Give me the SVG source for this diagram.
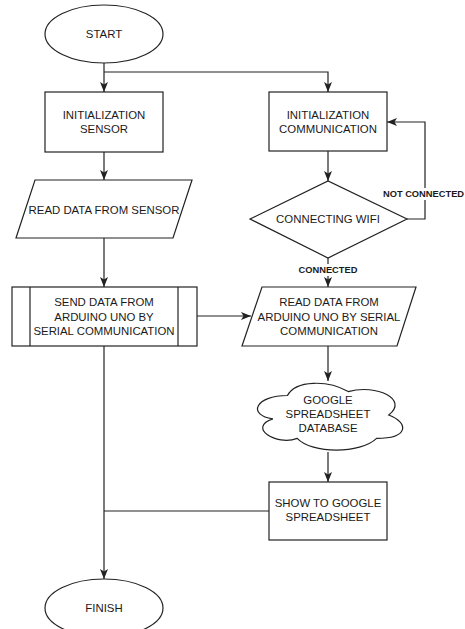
<svg xmlns="http://www.w3.org/2000/svg" width="465" height="629" viewBox="0 0 465 629">
<style>
.s{fill:#fff;stroke:#222;stroke-width:1.2}
.t{font-family:"Liberation Sans",Arial,sans-serif;font-size:11.4px;fill:#1a1a1a;text-anchor:middle;dominant-baseline:central}
.l{font-family:"Liberation Sans",Arial,sans-serif;font-size:9.3px;font-weight:bold;fill:#1a1a1a;text-anchor:middle;dominant-baseline:central}
.c{fill:none;stroke:#222;stroke-width:1.2}
</style>
<defs>
<marker id="a" viewBox="0 0 10 8" refX="10" refY="4" markerWidth="10" markerHeight="8" markerUnits="userSpaceOnUse" orient="auto">
<path d="M0,0 L10,4 L0,8 L2.5,4 Z" fill="#222"/>
</marker>
</defs>
<rect width="465" height="629" fill="#fff"/>
<g id="connectors">
<path class="c" d="M104,63 V92" marker-end="url(#a)"/>
<path class="c" d="M104,72 H328 V92" marker-end="url(#a)"/>
<path class="c" d="M104,152 V180" marker-end="url(#a)"/>
<path class="c" d="M328,151 V181" marker-end="url(#a)"/>
<path class="c" d="M104,238 V287" marker-end="url(#a)"/>
<path class="c" d="M197,316 H251" marker-end="url(#a)"/>
<path class="c" d="M407,219 H425 V122 H387" marker-end="url(#a)"/>
<path class="c" d="M328,258 V287" marker-end="url(#a)"/>
<path class="c" d="M328,346 V381" marker-end="url(#a)"/>
<path class="c" d="M328,452 V482" marker-end="url(#a)"/>
<path class="c" d="M104,346 V579" marker-end="url(#a)"/>
<path class="c" d="M269,511 H104"/>
<rect x="383" y="188" width="82" height="12" fill="#fff"/>
<text class="l" x="423.5" y="194">NOT CONNECTED</text>
<rect x="298" y="264" width="60" height="12" fill="#fff"/>
<text class="l" x="328" y="270">CONNECTED</text>
</g>
<g id="start">
<ellipse class="s" cx="104" cy="34" rx="59" ry="29"/>
<text class="t" x="104" y="34">START</text>
</g>
<g id="init-sensor">
<rect class="s" x="45" y="92" width="118" height="60"/>
<text class="t" x="104" y="115">INITIALIZATION</text>
<text class="t" x="104" y="129">SENSOR</text>
</g>
<g id="init-comm">
<rect class="s" x="269" y="92" width="118" height="59"/>
<text class="t" x="328" y="115">INITIALIZATION</text>
<text class="t" x="328" y="129">COMMUNICATION</text>
</g>
<g id="read-sensor">
<path class="s" d="M35,180 H192 L173,238 H16 Z"/>
<text class="t" x="104" y="210">READ DATA FROM SENSOR</text>
</g>
<g id="wifi">
<path class="s" d="M250,219 L328,181 L407,219 L328,258 Z"/>
<text class="t" x="328" y="219">CONNECTING WIFI</text>
</g>
<g id="send">
<rect class="s" x="12" y="287" width="185" height="59"/>
<path class="c" d="M30,287 V346 M178,287 V346"/>
<text class="t" x="104" y="302">SEND DATA FROM</text>
<text class="t" x="104" y="317">ARDUINO UNO BY</text>
<text class="t" x="104" y="331">SERIAL COMMUNICATION</text>
</g>
<g id="read-arduino">
<path class="s" d="M262,287 H416 L397,346 H242 Z"/>
<text class="t" x="329" y="302">READ DATA FROM</text>
<text class="t" x="329" y="317">ARDUINO UNO BY SERIAL</text>
<text class="t" x="329" y="331">COMMUNICATION</text>
</g>
<g id="cloud">
<path class="s" d="M287.5,395.5 C255.1,395.5 247,415 272.9,418.9 C247,427.5 276.2,446.2 297.2,438.4 C311.8,454 360.4,454 376.6,438.4 C409,438.4 409,422.8 388.75,415 C409,399.4 376.6,383.8 348.25,391.6 C328,379.9 295.6,379.9 287.5,395.5 Z"/>
<text class="t" x="328" y="400">GOOGLE</text>
<text class="t" x="328" y="414">SPREADSHEET</text>
<text class="t" x="328" y="428">DATABASE</text>
</g>
<g id="show">
<rect class="s" x="269" y="482" width="118" height="58"/>
<text class="t" x="328" y="503">SHOW TO GOOGLE</text>
<text class="t" x="328" y="517">SPREADSHEET</text>
</g>
<g id="finish">
<ellipse class="s" cx="104" cy="608" rx="59" ry="29"/>
<text class="t" x="104" y="608">FINISH</text>
</g>
</svg>
